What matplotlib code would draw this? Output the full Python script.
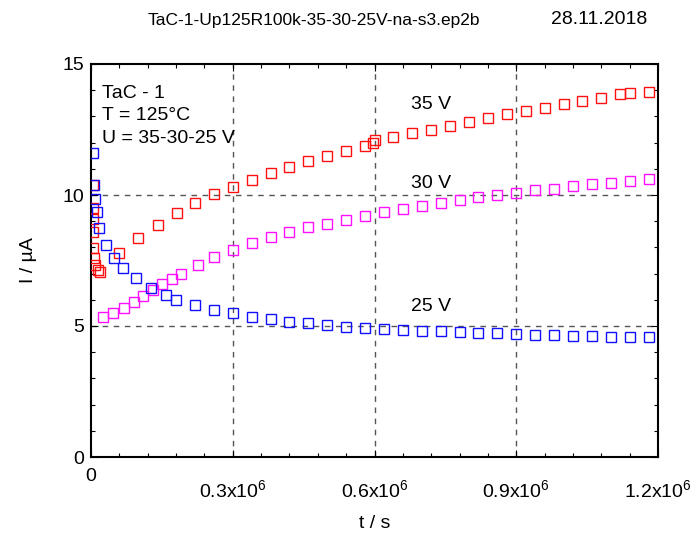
import matplotlib
matplotlib.use("Agg")
import matplotlib.pyplot as plt
from matplotlib.ticker import MultipleLocator, FixedLocator, FixedFormatter

plt.rcParams['font.family'] = ['Liberation Sans', 'DejaVu Sans']
plt.rcParams['mathtext.fontset'] = 'custom'
plt.rcParams['mathtext.rm'] = 'Liberation Sans'
plt.rcParams['mathtext.it'] = 'Liberation Sans:italic'

# 35 V step (current in uA vs time in s)
t_35 = [4900, 3500, 3500, 3500, 4900, 6300, 8500, 15500, 19000,
        60300, 100500, 140800, 181000, 220000, 260000, 300000, 340000,
        380000, 420000, 460000, 500000, 540000, 580000, 596000, 600000,
        640000, 680000, 720000, 760000, 800000, 840000, 880000, 920000,
        960000, 1000000, 1040000, 1080000, 1120000, 1140000, 1180000]
i_35 = [10.38, 9.49, 9.07, 8.60, 7.97, 7.58, 7.33, 7.14, 7.07,
        7.77, 8.35, 8.85, 9.33, 9.71, 10.04, 10.32, 10.57,
        10.85, 11.08, 11.31, 11.49, 11.69, 11.87, 11.97, 12.10,
        12.20, 12.35, 12.48, 12.63, 12.79, 12.93, 13.08, 13.21,
        13.33, 13.47, 13.60, 13.71, 13.84, 13.90, 13.93]

# 30 V step
t_30 = [24800, 46000, 69900, 90400, 110800, 130700, 150400, 171600, 190600,
        226000, 260500, 300000, 340000, 380000, 420000, 460000, 500000,
        540000, 580000, 620000, 660000, 700000, 740000, 780000, 820000,
        860000, 900000, 940000, 980000, 1020000, 1060000, 1100000, 1140000,
        1180000]
i_30 = [5.33, 5.48, 5.70, 5.92, 6.16, 6.36, 6.59, 6.78, 6.98,
        7.33, 7.62, 7.90, 8.15, 8.39, 8.59, 8.76, 8.91,
        9.05, 9.20, 9.34, 9.47, 9.59, 9.68, 9.81, 9.91,
        10.01, 10.09, 10.19, 10.24, 10.34, 10.42, 10.47, 10.53,
        10.60]

# 25 V step
t_25 = [4900, 6300, 7800, 12100, 17600, 31100, 48700, 67100, 95200,
        127000, 159400, 180000, 220000, 260000, 300000, 340000, 380000,
        420000, 460000, 500000, 540000, 580000, 620000, 660000, 700000,
        740000, 780000, 820000, 860000, 900000, 940000, 980000, 1020000,
        1060000, 1100000, 1140000, 1180000]
i_25 = [11.61, 10.38, 9.85, 9.34, 8.73, 8.09, 7.61, 7.23, 6.82,
        6.46, 6.19, 5.99, 5.80, 5.61, 5.48, 5.35, 5.25,
        5.16, 5.10, 5.05, 4.97, 4.93, 4.89, 4.85, 4.82,
        4.80, 4.77, 4.74, 4.72, 4.69, 4.67, 4.66, 4.63,
        4.62, 4.59, 4.59, 4.57]

x_ticks = [0, 0.3e6, 0.6e6, 0.9e6, 1.2e6]
x_tick_labels = ['0', '0.3x10$^{6}$', '0.6x10$^{6}$', '0.9x10$^{6}$', '1.2x10$^{6}$']
y_ticks = [0, 5, 10, 15]

fig = plt.figure(figsize=(6.94, 5.38), dpi=100)
ax = fig.add_axes([91/694, 1-457/538, (658-91)/694, (457-64)/538])

ax.set_xlim(0, 1.2e6)
ax.set_ylim(0, 15)

# dashed reference grid at inner major ticks
for xv in x_ticks[1:-1]:
    ax.axvline(xv, color='#555555', lw=1.0, ls=(0, (4, 4)), zorder=1)
for yv in y_ticks[1:-1]:
    ax.axhline(yv, color='#555555', lw=1.0, ls=(0, (4, 4)), zorder=1)

mk = dict(ls='none', marker='s', markersize=6.5, markerfacecolor='none',
          markeredgewidth=1.0, zorder=3)
ax.plot(t_35, i_35, markeredgecolor='#ff1010', **mk)
ax.plot(t_30, i_30, markeredgecolor='#ff10ff', **mk)
ax.plot(t_25, i_25, markeredgecolor='#1010ff', **mk)

ax.xaxis.set_major_locator(FixedLocator(x_ticks))
ax.xaxis.set_major_formatter(FixedFormatter(x_tick_labels))
ax.xaxis.set_minor_locator(MultipleLocator(0.06e6))
ax.yaxis.set_major_locator(FixedLocator(y_ticks))
ax.yaxis.set_minor_locator(MultipleLocator(1))

ax.tick_params(which='both', direction='in', top=True, right=True,
               labelsize=14, width=0.8)
ax.tick_params(which='major', length=5, pad=8)
ax.tick_params(which='minor', length=3)
ax.tick_params(axis='y', which='major', pad=5)
# scientific labels sit a little lower than the zero label
for tk in ax.xaxis.get_major_ticks()[1:]:
    tk.set_pad(16)
for s in ax.spines.values():
    s.set_linewidth(1.5)

ax.set_xlabel('t / s', fontsize=14, labelpad=10)
ax.set_ylabel('I / \u00b5A', fontsize=14, labelpad=18)

ax.text(0.02, 0.925, 'TaC - 1', transform=ax.transAxes, fontsize=14, va='center')
ax.text(0.02, 0.868, 'T = 125\u00b0C', transform=ax.transAxes, fontsize=14, va='center')
ax.text(0.02, 0.810, 'U = 35-30-25 V', transform=ax.transAxes, fontsize=14, va='center')

ax.text(0.72e6, 13.45, '35 V', fontsize=14, ha='center', va='center')
ax.text(0.72e6, 10.45, '30 V', fontsize=14, ha='center', va='center')
ax.text(0.72e6, 5.75, '25 V', fontsize=14, ha='center', va='center')

fig.text(314/694, 1-20/538, 'TaC-1-Up125R100k-35-30-25V-na-s3.ep2b',
         fontsize=12.5, ha='center', va='center')
fig.text(599/694, 1-20/538, '28.11.2018', fontsize=14, ha='center', va='center')

fig.savefig('out.png', dpi=100)
